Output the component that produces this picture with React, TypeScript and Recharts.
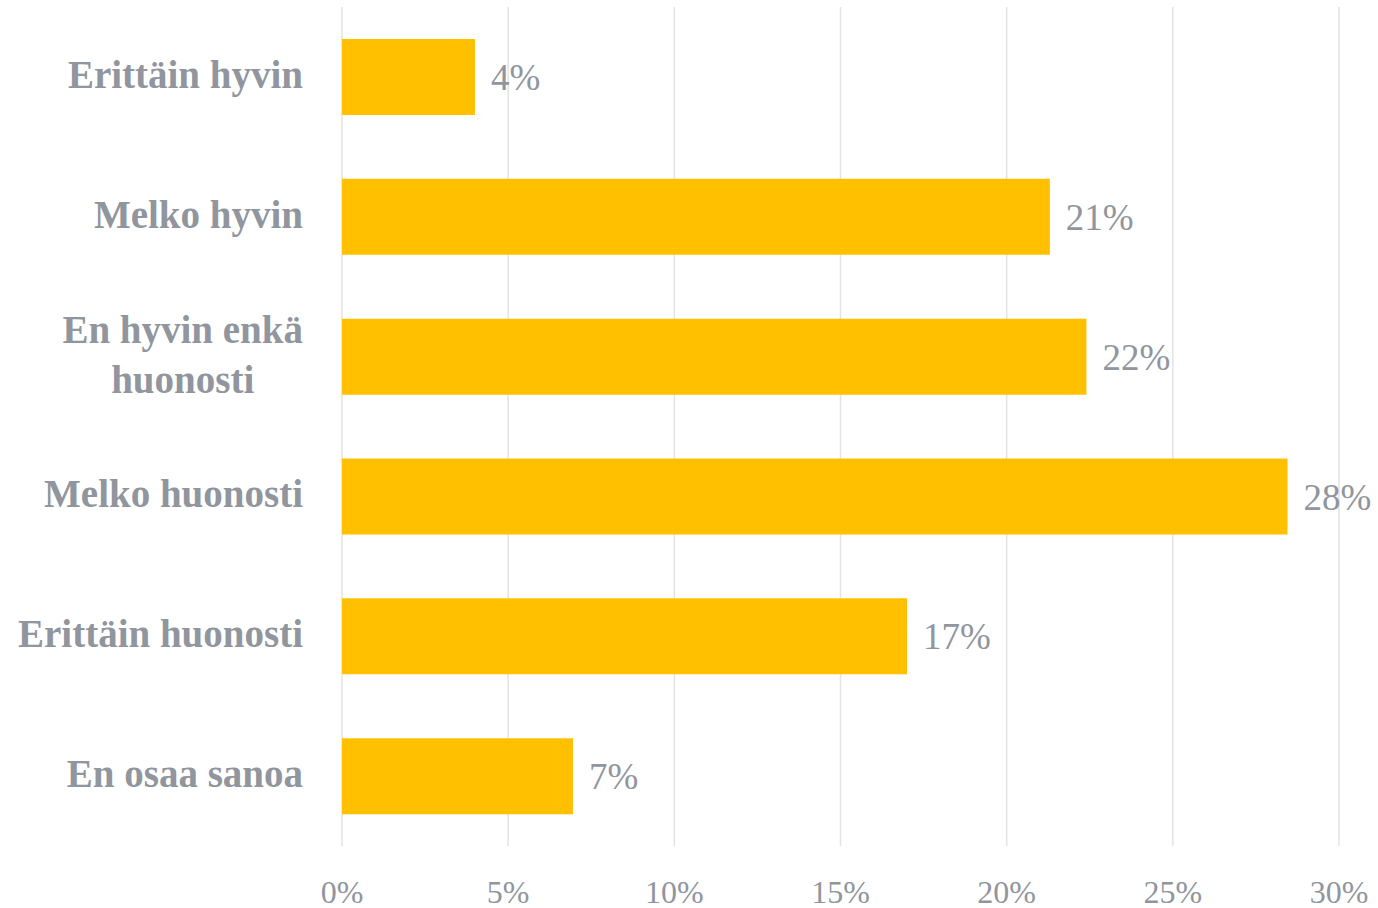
import React from "react";
import { BarChart, Bar, XAxis, YAxis, CartesianGrid, LabelList } from "recharts";

const categories = [
  "Erittäin hyvin",
  "Melko hyvin",
  "En hyvin enkä\nhuonosti",
  "Melko huonosti",
  "Erittäin huonosti",
  "En osaa sanoa",
];
const values = [4.0, 21.3, 22.4, 28.45, 17.0, 6.95];
const xTicks = [0, 5, 10, 15, 20, 25, 30];

const data = categories.map((c, i) => ({ name: c, value: values[i] }));

const TEXT = "#90959e";
const FONT = "'Liberation Serif', 'Times New Roman', serif";
const CAT_SIZE = 39;

let ctx: CanvasRenderingContext2D | null = null;
function measure(t: string): number {
  if (!ctx) {
    const c = document.createElement("canvas");
    ctx = c.getContext("2d");
  }
  if (!ctx) return t.length * CAT_SIZE * 0.5;
  ctx.font = `bold ${CAT_SIZE}px 'Liberation Serif'`;
  return ctx.measureText(t).width;
}

const YTick = (props: any) => {
  const { x, y, payload } = props;
  const lines = String(payload.value).split("\n");
  const lh = 50;
  const widths = lines.map(measure);
  const maxW = Math.max(...widths);
  const cx = x - maxW / 2;
  const first = y + 11 - ((lines.length - 1) * lh) / 2;
  return (
    <g>
      {lines.map((l, i) => (
        <text
          key={i}
          x={lines.length > 1 ? cx : x}
          y={first + i * lh}
          textAnchor={lines.length > 1 ? "middle" : "end"}
          fill={TEXT}
          fontFamily={FONT}
          fontWeight="bold"
          fontSize={CAT_SIZE}
        >
          {l}
        </text>
      ))}
    </g>
  );
};

const XTick = (props: any) => {
  const { x, y, payload } = props;
  return (
    <text x={x} y={y + 57} textAnchor="middle" fill={TEXT} fontFamily={FONT} fontSize={32}>
      {`${payload.value}%`}
    </text>
  );
};

export default function App() {
  return (
    <div style={{ position: "absolute", left: 0, top: 0, background: "#fff" }}>
      <BarChart
        width={1378}
        height={908}
        data={data}
        layout="vertical"
        margin={{ top: 7, right: 39, bottom: 0, left: 0 }}
      >
        <CartesianGrid horizontal={false} stroke="#e3e3e3" strokeWidth={1.5} />
        <XAxis
          type="number"
          domain={[0, 30]}
          ticks={xTicks}
          axisLine={false}
          tickLine={false}
          tickSize={0}
          tickMargin={0}
          height={62}
          tick={<XTick />}
          interval={0}
        />
        <YAxis
          type="category"
          dataKey="name"
          width={342}
          axisLine={false}
          tickLine={false}
          tickSize={0}
          tickMargin={39}
          tick={<YTick />}
          interval={0}
        />
        <Bar dataKey="value" fill="#FFC000" barSize={76} isAnimationActive={false}>
          <LabelList
            dataKey="value"
            position="right"
            offset={16}
            formatter={(v: any) => `${Math.round(Number(v))}%`}
            fill={TEXT}
            fontFamily={FONT}
            fontSize={37}
          />
        </Bar>
      </BarChart>
    </div>
  );
}
